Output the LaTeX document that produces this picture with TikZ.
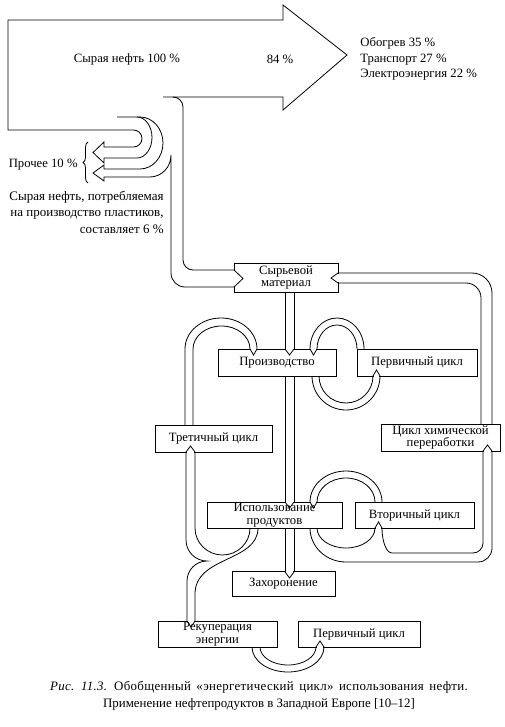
\documentclass[tikz,border=0pt]{standalone}
\usepackage{fontspec}
\setmainfont{Liberation Serif}
\usetikzlibrary{decorations.pathreplacing}
\newcommand{\vnotch}[4]{%
  \fill[white] ({#1+0.6},{#3-0.9}) rectangle ({#2-0.6},{#3+0.9});
  \draw (#1,#3) -- ({(#1+#2)/2},{#3+(#4)}) -- (#2,#3);}
\newcommand{\hnotch}[4]{%
  \fill[white] ({#3-0.9},{#1+0.6}) rectangle ({#3+0.9},{#2-0.6});
  \draw (#3,#1) -- ({#3+(#4)},{(#1+#2)/2}) -- (#3,#2);}
\begin{document}
\begin{tikzpicture}[x=1pt, y=-1pt, line width=0.8pt,
    box/.style={draw, fill=white, minimum height=27pt, inner sep=0.5pt, align=center, font=\fontsize{12.7}{12.5}\selectfont},
    txt/.style={inner sep=0pt, font=\fontsize{12.7}{15.5}\selectfont}
]
\useasboundingbox (0,0) rectangle (504,727);

\node[box, minimum width=104pt, minimum height=29pt] (raw) at (286,277.5) {Сырьевой\\материал};
\node[box, minimum width=118pt] (prod) at (277,362.5) {Производство};
\node[box, minimum width=120pt] (prim) at (417,362.5) {Первичный цикл};
\node[box, minimum width=117pt] (tert) at (213.5,438.5) {Третичный цикл};
\node[box, minimum width=119pt] (chem) at (440.5,437.5) {Цикл химической\\переработки};
\node[box, minimum width=135pt, minimum height=26pt] (use) at (274.5,515) {Использование\\продуктов};
\node[box, minimum width=119pt, minimum height=26pt] (sec) at (414.5,515) {Вторичный цикл};
\node[box, minimum width=103pt, minimum height=25pt] (land) at (283.5,583.5) {Захоронение};
\node[box, minimum width=119pt, minimum height=26pt] (recov) at (217.5,634) {Рекуперация\\энергии};
\node[box, minimum width=122pt, minimum height=26pt] (prim2) at (359,634) {Первичный цикл};

\draw (163,97) -- (283,97) -- (283,110) -- (347,55) -- (283,5) -- (283,20) -- (8,20) -- (8,130)
  -- (133.5,130) arc[start angle=270, end angle=450, radius=8.5] -- (104,147)
  -- (104,142) -- (93,152.5) -- (104,163) -- (104,158)
  -- (137,158) arc[start angle=90, end angle=-90, x radius=15, y radius=20.5] -- (117,117);
\draw (137,117) -- (140,117) arc[start angle=-90, end angle=90, x radius=23, y radius=26] -- (104,169)
  -- (104,165) -- (93,173) -- (104,181) -- (104,177)
  -- (150,177) arc[start angle=90, end angle=0, x radius=21, y radius=22]
  -- (171,273) arc[start angle=180, end angle=90, radius=14] -- (234,287);
\draw (173,97) arc[start angle=270, end angle=360, radius=10]
  -- (183,260) arc[start angle=180, end angle=90, radius=10] -- (234,270);
\hnotch{270}{287}{234}{9}

\draw (338,273) -- (472,273) arc[start angle=270, end angle=360, radius=20] -- (492,424);
\draw (338,283) -- (466,283) arc[start angle=270, end angle=360, radius=15] -- (481,424);
\hnotch{273}{283}{338}{-7}

\draw (285,292) -- (285,349) (294,292) -- (294,349);
\vnotch{285}{294}{349}{6}
\draw (285,376) -- (285,502) (294,376) -- (294,502);
\vnotch{285}{294}{502}{6}
\draw (285,528) -- (285,572) (294,528) -- (294,572);
\vnotch{285}{294}{572}{6}

\draw (310,349) arc[start angle=180, end angle=360, x radius=27, y radius=31];
\draw (317,349) arc[start angle=180, end angle=360, x radius=20, y radius=24];
\vnotch{310}{317}{349}{6}
\draw (312,376) arc[start angle=180, end angle=0, radius=34];
\draw (319,376) arc[start angle=180, end angle=0, radius=27];
\vnotch{373}{380}{376}{-6}

\draw (185,425) -- (185,349) arc[start angle=180, end angle=360, x radius=36, y radius=31];
\draw (193,425) -- (193,349) arc[start angle=180, end angle=360, x radius=28.5, y radius=23];
\vnotch{250}{257}{349}{6}

\draw (310,502) arc[start angle=180, end angle=360, x radius=36, y radius=31];
\draw (317,502) arc[start angle=180, end angle=360, x radius=29, y radius=24];
\vnotch{310}{317}{502}{6}
\draw (310,528) arc[start angle=180, end angle=90, x radius=36, y radius=34]
  -- (478,562) arc[start angle=90, end angle=0, radius=14] -- (492,451);
\draw (317,528) arc[start angle=180, end angle=0, x radius=29, y radius=20];
\draw (382,528) arc[start angle=180, end angle=90, x radius=10, y radius=25]
  -- (473,553) arc[start angle=90, end angle=0, radius=10] -- (483,451);
\vnotch{375}{382}{528}{-6}
\vnotch{483}{492}{451}{-6}

\draw (250,528) arc[start angle=0, end angle=180, x radius=27.5, y radius=27] -- (195,452);
\vnotch{186}{195}{452}{-6}
\draw (186,452) -- (186,540) arc[start angle=180, end angle=90, radius=21]
  arc[start angle=270, end angle=180, radius=20] -- (187,621);
\draw (258,528) .. controls (258,562) and (195,556) .. (195,594) -- (195,621);
\vnotch{187}{195}{621}{6}

\draw (252,647) arc[start angle=180, end angle=0, x radius=36, y radius=25];
\draw (260,647) arc[start angle=180, end angle=0, x radius=28, y radius=18];
\vnotch{316}{324}{647}{-6}

\node[txt] (crude) at (127,59) {Сырая нефть 100 \%};
\node[txt] (share) at (280,59) {84 \%};
\node[txt, anchor=west, align=left] (uses) at (360,59) {Обогрев 35 \%\\Транспорт 27 \%\\Электроэнергия 22 \%};
\node[txt, anchor=east] (other) at (78,165) {Прочее 10 \%};
\draw[decorate, decoration={brace, amplitude=5pt}] (88,183) -- (88,142);
\node[txt, anchor=east, align=right, font=\fontsize{13}{16.5}\selectfont] (plast) at (164,212)
  {Сырая нефть, потребляемая\\на производство пластиков,\\составляет 6 \%};
\node[txt, align=center, font=\fontsize{12.9}{17}\selectfont] (cap) at (259,696)
  {{\addfontfeature{LetterSpace=2.5}\spaceskip=5.5pt\relax\textit{Рис. 11.3.} Обобщенный «энергетический цикл» использования нефти.}\\Применение нефтепродуктов в Западной Европе [10--12]};
\end{tikzpicture}
\end{document}
